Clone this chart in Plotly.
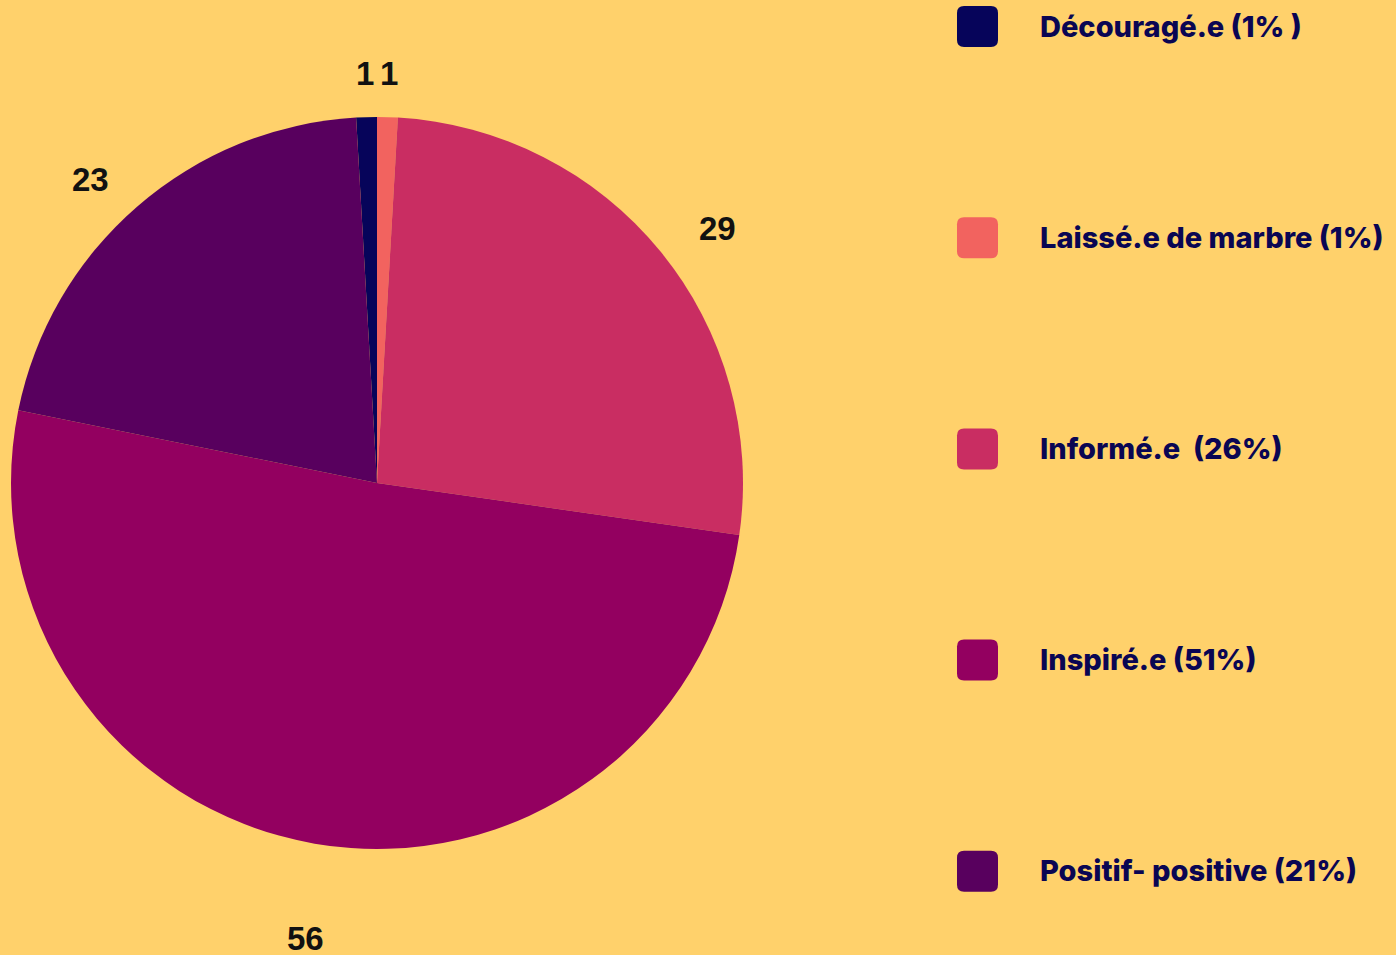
import numpy as np
import plotly.graph_objects as go

# ---- data ----
categories = ["Découragé.e", "Laissé.e de marbre", "Informé.e", "Inspiré.e", "Positif- positive"]
values = [1, 1, 29, 56, 23]
legend_labels = ["Découragé.e (1% )", "Laissé.e de marbre (1%)", "Informé.e  (26%)",
                 "Inspiré.e (51%)", "Positif- positive (21%)"]

# ---- style ----
colors = ["#06045A", "#F2635F", "#C92D62", "#930060", "#58005E"]
bg = "#FFD16B"
text_navy = "#0A0653"
W, H = 1396, 955
cx, cy, R = 377, 483, 366            # pie centre / radius in pixels
label_rfac = [1.12, 1.12, 1.16, 1.26, 1.14]  # radial offset of value labels
label_dang = [0, 0, 2.5, -0.9, -2.5]         # small angular nudge (deg)

total = float(sum(values))
rotation = -360.0 * values[0] / total

fig = go.Figure()
fig.add_trace(go.Pie(
    labels=categories, values=values, sort=False, direction="clockwise",
    rotation=rotation, marker=dict(colors=colors, line=dict(width=0)),
    textinfo="none", showlegend=False, hoverinfo="label+value",
    domain=dict(x=[(cx - R) / W, (cx + R) / W], y=[1 - (cy + R) / H, 1 - (cy - R) / H]),
))

annotations = []
shapes = []
cum = np.cumsum([0] + values[:-1])
for i, v in enumerate(values):
    mid = np.deg2rad(rotation + 360.0 * (cum[i] + v / 2.0) / total + label_dang[i])
    r = R * label_rfac[i]
    px = cx + r * np.sin(mid)
    py = cy - r * np.cos(mid)
    annotations.append(dict(
        x=px / W, y=1 - py / H, xref="paper", yref="paper", text=f"<b>{v}</b>",
        showarrow=False, xanchor="center", yanchor="middle",
        font=dict(family="Liberation Sans, Arial", size=33, color="#111111"),
    ))

def rounded_square(x0, y0, size, rad):
    x1, y1 = x0 + size, y0 + size
    pts = [
        ("M", x0 + rad, y0), ("L", x1 - rad, y0), ("Q", x1, y0, x1, y0 + rad),
        ("L", x1, y1 - rad), ("Q", x1, y1, x1 - rad, y1), ("L", x0 + rad, y1),
        ("Q", x0, y1, x0, y1 - rad), ("L", x0, y0 + rad), ("Q", x0, y0, x0 + rad, y0),
    ]
    out = []
    for p in pts:
        coords = p[1:]
        conv = [f"{coords[j] / W:.5f},{1 - coords[j + 1] / H:.5f}" for j in range(0, len(coords), 2)]
        out.append(p[0] + " " + " ".join(conv))
    return " ".join(out) + " Z"

leg_y0, leg_dy = 26, 211.2
for i, lab in enumerate(legend_labels):
    yc = leg_y0 + leg_dy * i
    shapes.append(dict(type="path", xref="paper", yref="paper",
                       path=rounded_square(957, yc - 20, 41, 7),
                       fillcolor=colors[i], line=dict(width=0)))
    annotations.append(dict(
        x=1038 / W, y=1 - yc / H, xref="paper", yref="paper", text=lab,
        showarrow=False, xanchor="left", yanchor="middle",
        font=dict(family="Inter, Lato", size=29, weight=800, color=text_navy),
    ))

fig.update_layout(
    width=W, height=H, autosize=False,
    margin=dict(l=0, r=0, t=0, b=0),
    paper_bgcolor=bg, plot_bgcolor=bg,
    annotations=annotations, shapes=shapes,
    showlegend=False,
)

fig.write_html("out.html", config={"displayModeBar": False},
               post_script="document.body.style.margin='0';document.body.style.overflow='hidden';")
